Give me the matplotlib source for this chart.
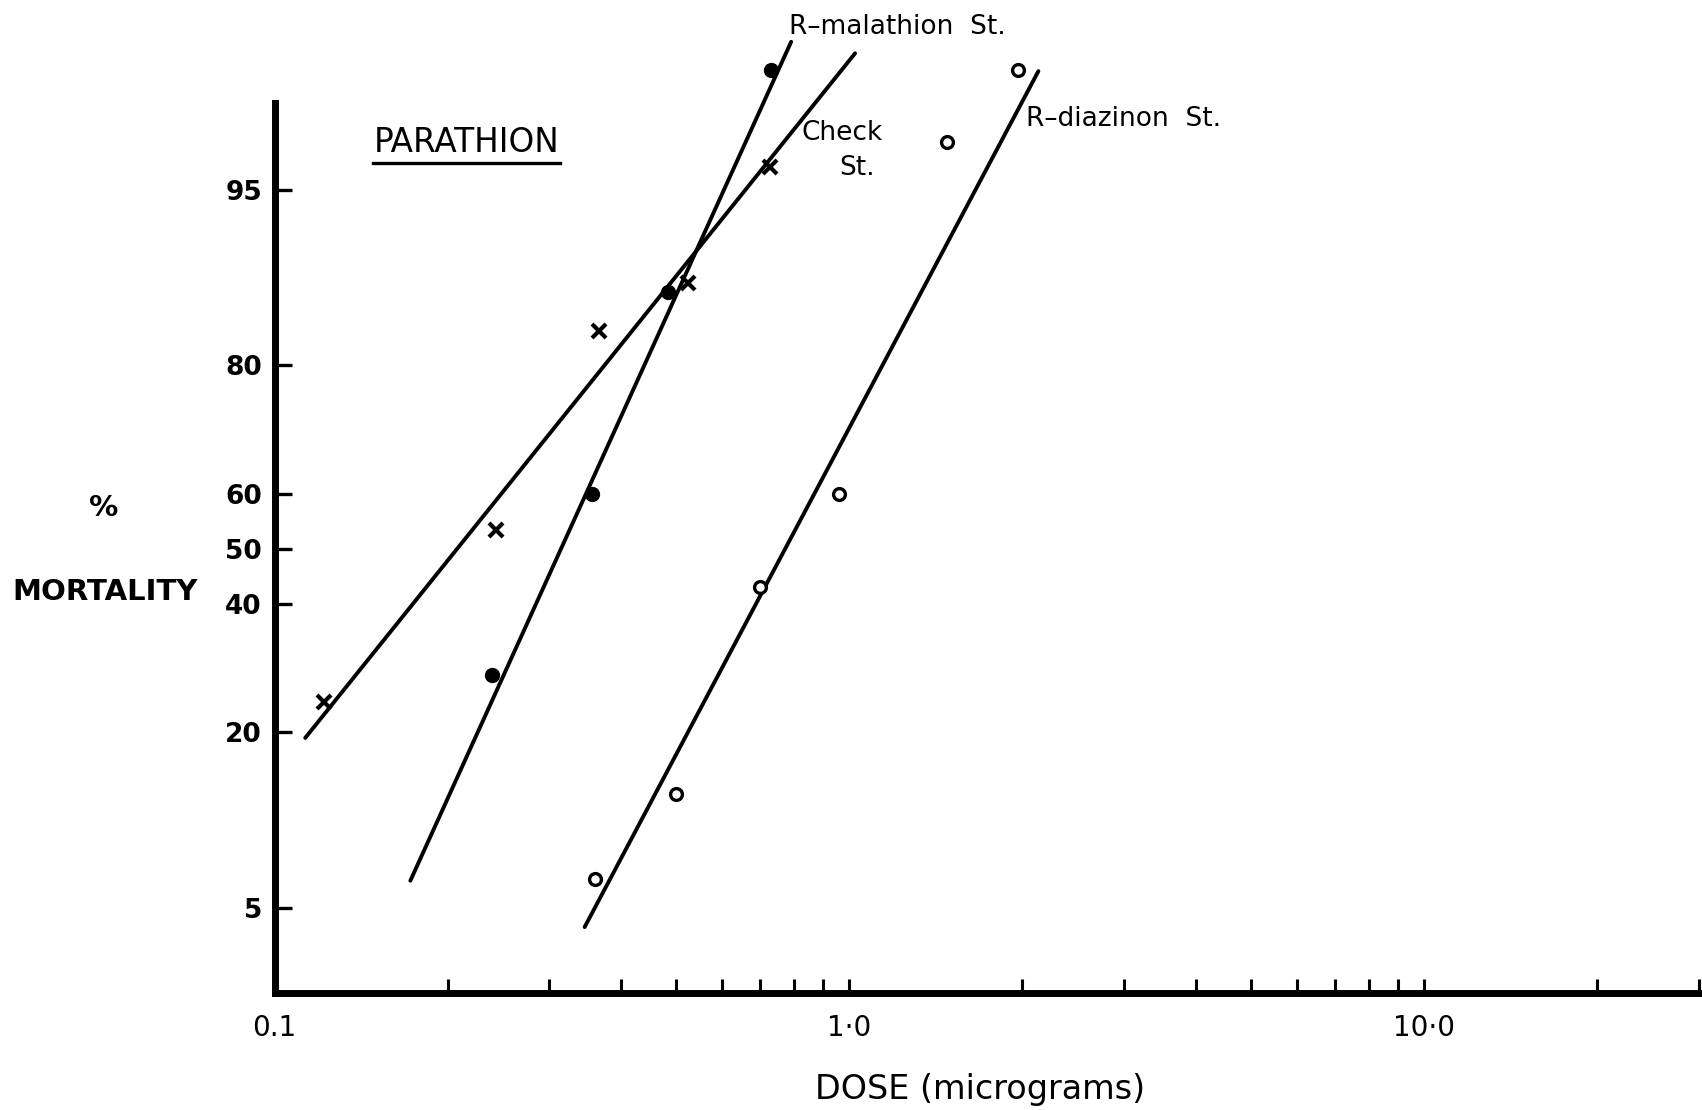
import numpy as np
import matplotlib
matplotlib.use("Agg")
import matplotlib.pyplot as plt
from matplotlib.lines import Line2D
from matplotlib.ticker import FixedLocator, NullFormatter
from statistics import NormalDist

# dose (micrograms) and % mortality
check_dose = [0.122, 0.243, 0.367, 0.524, 0.729]
check_mort = [24.2, 53.5, 84.1, 88.9, 96.0]

mala_dose = [0.2385, 0.357, 0.4836, 0.731]
mala_mort = [28.2, 60.0, 88.1, 98.6]

diaz_dose = [0.3614, 0.4992, 0.698, 0.960, 1.476, 1.961]
diaz_mort = [6.5, 13.0, 43.1, 60.0, 96.9, 98.6]

# fitted lines (end points)
check_line_dose = [0.1131, 1.023]
check_line_mort = [19.3, 98.85]
mala_line_dose = [0.1723, 0.792]
mala_line_mort = [6.4, 99.0]
diaz_line_dose = [0.3463, 2.132]
diaz_line_mort = [4.14, 98.58]

y_ticks = [5, 20, 40, 50, 60, 80, 95]
x_major = [0.1, 1.0, 10.0]
x_labels = ["0.1", "1\u00b70", "10\u00b70"]
x_minor = [0.2, 0.3, 0.4, 0.5, 0.6, 0.7, 0.8, 0.9,
           2, 3, 4, 5, 6, 7, 8, 9, 20, 30]

nd = NormalDist()
_ppf = np.vectorize(lambda v: nd.inv_cdf(v), otypes=[float])
_cdf = np.vectorize(lambda v: nd.cdf(v), otypes=[float])


def probit_fwd(p):
    p = np.clip(np.asarray(p, dtype=float) / 100.0, 1e-9, 1 - 1e-9)
    return _ppf(p)


def probit_inv(z):
    return _cdf(np.asarray(z, dtype=float)) * 100.0


W, H = 1702, 1110
fig = plt.figure(figsize=(W / 100, H / 100), dpi=100)
ax = fig.add_axes([274.5 / W, 1 - 993 / H, 0.8367, 993 / H])

ax.set_xscale("log")
ax.set_yscale("function", functions=(probit_fwd, probit_inv))
ax.set_xlim(0.1, 30)
ymin = nd.cdf(-2.037) * 100
ymax = nd.cdf(2.518) * 100
ax.set_ylim(ymin, ymax)

lw = 2.8
ax.plot(check_line_dose, check_line_mort, color="black", lw=lw, solid_capstyle="round")
ax.plot(mala_line_dose, mala_line_mort, color="black", lw=lw, solid_capstyle="round")
ax.plot(diaz_line_dose, diaz_line_mort, color="black", lw=lw, solid_capstyle="round")

ax.plot(check_dose, check_mort, ls="none", marker="x", ms=10.5, mew=3, color="black")
ax.plot(mala_dose, mala_mort, ls="none", marker="o", ms=10, color="black")
ax.plot(diaz_dose, diaz_mort, ls="none", marker="o", ms=8.5, mew=2.4,
        mfc="white", mec="black")

for s in ["top", "right"]:
    ax.spines[s].set_visible(False)
ax.spines["left"].set_linewidth(5)
ax.spines["bottom"].set_linewidth(5)
ax.spines["left"].set_bounds(ymin, nd.cdf(2.046) * 100)

ax.yaxis.set_major_locator(FixedLocator(y_ticks))
ax.yaxis.set_minor_locator(FixedLocator([]))
ax.set_yticklabels([str(t) for t in y_ticks], fontsize=19, fontweight="bold")
ax.tick_params(axis="y", direction="in", length=12, width=2.4, pad=9)

ax.xaxis.set_major_locator(FixedLocator(x_major))
ax.xaxis.set_minor_locator(FixedLocator(x_minor))
ax.xaxis.set_minor_formatter(NullFormatter())
ax.set_xticklabels(x_labels, fontsize=20)
ax.tick_params(axis="x", which="both", direction="in", length=10, width=2.2, pad=15)


def fx(x):
    return x / W


def fy(y):
    return 1 - y / H


fig.text(fx(466.5), fy(143), "PARATHION", fontsize=23.5, ha="center", va="center")
fig.add_artist(Line2D([fx(373), fx(560)], [fy(163), fy(163)], color="black", lw=2.4))
fig.text(fx(789), fy(27), "R\u2013malathion  St.", fontsize=19, ha="left", va="center")
fig.text(fx(842), fy(133), "Check", fontsize=19, ha="center", va="center")
fig.text(fx(857), fy(168), "St.", fontsize=19, ha="center", va="center")
fig.text(fx(1026), fy(119), "R\u2013diazinon  St.", fontsize=19, ha="left", va="center")

fig.text(fx(104), fy(508), "%", fontsize=21, fontweight="bold", ha="center", va="center")
fig.text(fx(105), fy(592), "MORTALITY", fontsize=21, fontweight="bold",
         ha="center", va="center")
fig.text(fx(980), fy(1089), "DOSE (micrograms)", fontsize=24, ha="center", va="center")

fig.savefig("out.png", dpi=100)
